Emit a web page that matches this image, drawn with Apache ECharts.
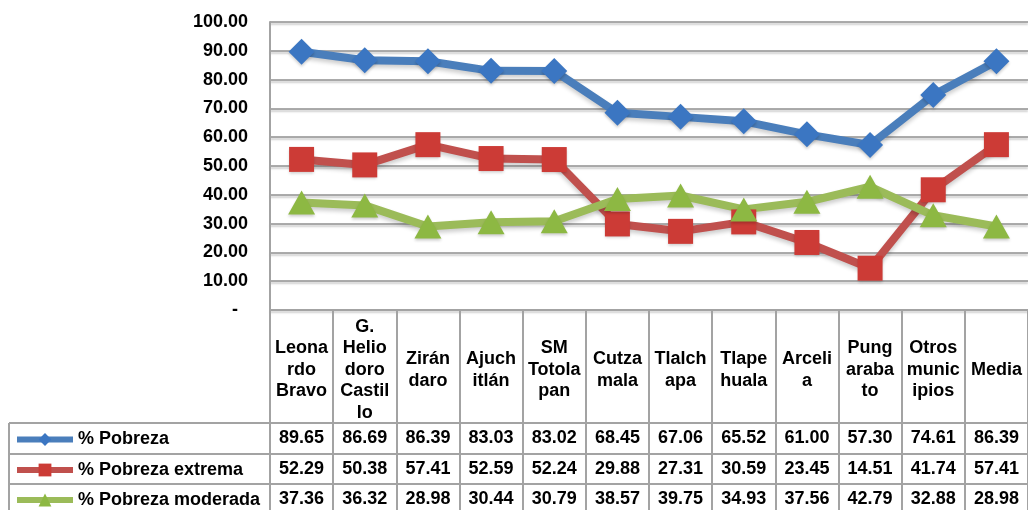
<!DOCTYPE html>
<html lang="es">
<head>
    <meta charset="UTF-8">
    <title>Pobreza por municipio</title>
    <script src="https://cdn.jsdelivr.net/npm/echarts@6/dist/echarts.min.js"></script>
    <style>
        html, body { margin: 0; padding: 0; background: #fff; }
        #chart1 { width: 1028px; height: 510px; }
    </style>
</head>
<body>
<div id="chart1"></div>
<script>
    // categorias (tal como aparecen cortadas en la tabla)
    var municipios = ['Leona\nrdo\nBravo', 'G.\nHelio\ndoro\nCastil\nlo', 'Zirán\ndaro', 'Ajuch\nitlán',
        'SM\nTotola\npan', 'Cutza\nmala', 'Tlalch\napa', 'Tlape\nhuala', 'Arceli\na',
        'Pung\naraba\nto', 'Otros\nmunic\nipios', 'Media'];
    var pobreza = [89.65, 86.69, 86.39, 83.03, 83.02, 68.45, 67.06, 65.52, 61.00, 57.30, 74.61, 86.39];
    var pobrezaExtrema = [52.29, 50.38, 57.41, 52.59, 52.24, 29.88, 27.31, 30.59, 23.45, 14.51, 41.74, 57.41];
    var pobrezaModerada = [37.36, 36.32, 28.98, 30.44, 30.79, 38.57, 39.75, 34.93, 37.56, 42.79, 32.88, 28.98];
    var nombres = ['% Pobreza', '% Pobreza extrema', '% Pobreza moderada'];

    var fuente = '"Liberation Sans", Arial, sans-serif';
    var gris = '#a3a3a3';

    // una fila de la tabla de datos, como eje x extra
    function fila(valores, offset) {
        return {
            type: 'category',
            gridIndex: 0,
            position: 'bottom',
            offset: offset,
            data: valores.map(function (v) { return v.toFixed(2); }),
            axisLine: { show: true, lineStyle: { color: gris, width: 2 } },
            axisTick: { show: false },
            axisLabel: {
                interval: 0, margin: 15, verticalAlign: 'middle',
                color: '#000', fontWeight: 'bold', fontSize: 18, fontFamily: fuente
            }
        };
    }

    // leyenda de cada fila
    function leyenda(nombre, top) {
        return {
            orient: 'vertical',
            left: 14,
            top: top,
            padding: 0,
            itemWidth: 56,
            itemHeight: 16,
            itemGap: 4,
            data: [nombre],
            lineStyle: { width: 6 },
            textStyle: { color: '#000', fontWeight: 'bold', fontSize: 18, fontFamily: fuente, lineHeight: 16 }
        };
    }

    var myChart1 = echarts.init(document.getElementById('chart1'));
    myChart1.setOption({
        animation: false,
        grid: { left: 270, top: 22, width: 760, height: 288 },
        legend: [
            leyenda(nombres[0], 430.5),
            leyenda(nombres[1], 461),
            leyenda(nombres[2], 491)
        ],
        xAxis: [
            {
                type: 'category',
                data: municipios,
                axisLine: { show: true, lineStyle: { color: gris, width: 2 } },
                axisTick: { show: true, interval: 0, length: 200, lineStyle: { color: gris, width: 2 } },
                axisLabel: {
                    interval: 0, margin: 60, verticalAlign: 'middle', lineHeight: 21.5,
                    color: '#000', fontWeight: 'bold', fontSize: 18, fontFamily: fuente
                }
            },
            fila(pobreza, 113),
            fila(pobrezaExtrema, 144),
            fila(pobrezaModerada, 174)
        ],
        yAxis: {
            type: 'value',
            min: 0,
            max: 100,
            interval: 10,
            axisLine: { show: true, lineStyle: { color: gris, width: 2 } },
            axisTick: { show: false },
            splitLine: {
                lineStyle: { color: '#8f8f8f', width: 1.5, shadowColor: 'rgba(0,0,0,0.25)', shadowBlur: 2, shadowOffsetY: 2 }
            },
            axisLabel: {
                margin: 22,
                color: '#000', fontWeight: 'bold', fontSize: 18, fontFamily: fuente,
                formatter: function (v) { return v === 0 ? '-  ' : v.toFixed(2); }
            }
        },
        graphic: [
            { type: 'line', shape: { x1: 9, y1: 423, x2: 270, y2: 423 }, style: { stroke: gris, lineWidth: 2 } },
            { type: 'line', shape: { x1: 9, y1: 454, x2: 270, y2: 454 }, style: { stroke: gris, lineWidth: 2 } },
            { type: 'line', shape: { x1: 9, y1: 484, x2: 270, y2: 484 }, style: { stroke: gris, lineWidth: 2 } },
            { type: 'line', shape: { x1: 9, y1: 423, x2: 9, y2: 510 }, style: { stroke: gris, lineWidth: 2 } }
        ],
        series: [
            {
                name: nombres[0],
                type: 'line',
                data: pobreza,
                symbol: 'diamond',
                symbolSize: 26,
                itemStyle: { color: '#3b76c2', shadowColor: 'rgba(0,0,0,0.2)', shadowBlur: 3, shadowOffsetY: 2 },
                lineStyle: { color: '#4a7ebb', width: 8, shadowColor: 'rgba(0,0,0,0.2)', shadowBlur: 4, shadowOffsetY: 3 }
            },
            {
                name: nombres[1],
                type: 'line',
                data: pobrezaExtrema,
                symbol: 'rect',
                symbolSize: 25,
                itemStyle: { color: '#cc3b36', shadowColor: 'rgba(0,0,0,0.2)', shadowBlur: 3, shadowOffsetY: 2 },
                lineStyle: { color: '#c0504d', width: 8, shadowColor: 'rgba(0,0,0,0.2)', shadowBlur: 4, shadowOffsetY: 3 }
            },
            {
                name: nombres[2],
                type: 'line',
                data: pobrezaModerada,
                symbol: 'triangle',
                symbolSize: [27, 24],
                itemStyle: { color: '#8db843', shadowColor: 'rgba(0,0,0,0.2)', shadowBlur: 3, shadowOffsetY: 2 },
                lineStyle: { color: '#9bbb59', width: 8, shadowColor: 'rgba(0,0,0,0.2)', shadowBlur: 4, shadowOffsetY: 3 }
            }
        ]
    });
</script>
</body>
</html>
